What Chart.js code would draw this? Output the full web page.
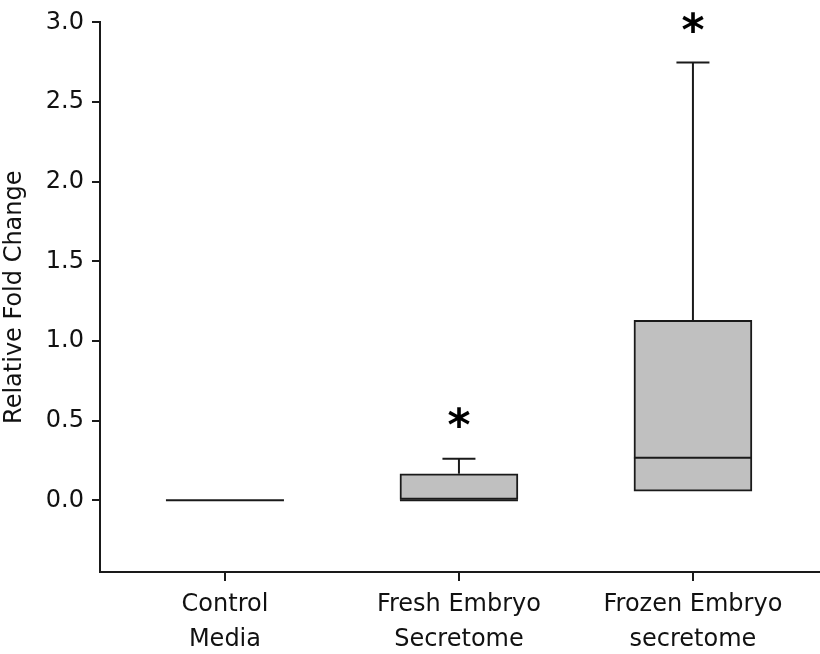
<!DOCTYPE html>
<html>
<head>
<meta charset="utf-8">
<script src="https://cdn.jsdelivr.net/npm/chart.js@4"></script>
<style>
  body { margin: 0; background: #fff; }
  #wrap { width: 820px; height: 654px; position: relative; }
</style>
</head>
<body>
<div id="wrap"><canvas id="boxChart"></canvas></div>
<script>
// ====================== DATA ======================
const categories = [["Control", "Media"], ["Fresh Embryo", "Secretome"], ["Frozen Embryo", "secretome"]];
const groupX = [1, 2, 3];
const whiskerLow = [0, 0, 0.058];
const q1 = [0, 0, 0.058];
const medians = [0, 0, 0.267];
const q3 = [0, 0.167, 1.13];
const whiskerHigh = [0, 0.261, 2.748];
const starY = [null, 0.49, 2.97];
const yTickValues = [0, 0.5, 1.0, 1.5, 2.0, 2.5, 3.0];

// ====================== STYLE ======================
const FONT = "'DejaVu Sans', sans-serif";
const lineColor = "#1a1a1a";
const boxWidth = 118;
const capWidth = 33;

// whiskers, caps, medians and significance stars
const boxExtras = {
    id: "boxExtras",
    afterDatasetsDraw(chart) {
        const { ctx, scales: { x, y } } = chart;
        const seg = (x1, y1, x2, y2) => {
            ctx.beginPath();
            ctx.moveTo(x1, y1);
            ctx.lineTo(x2, y2);
            ctx.stroke();
        };
        ctx.save();
        ctx.strokeStyle = lineColor;
        ctx.lineWidth = 2;
        groupX.forEach((gx, i) => {
            const cx = x.getPixelForValue(gx);
            const half = boxWidth / 2;
            const my = y.getPixelForValue(medians[i]);
            seg(cx - half, my, cx + half, my);
            if (whiskerHigh[i] > q3[i]) {
                const top = y.getPixelForValue(whiskerHigh[i]);
                seg(cx, y.getPixelForValue(q3[i]), cx, top);
                seg(cx - capWidth / 2, top, cx + capWidth / 2, top);
            }
            if (whiskerLow[i] < q1[i]) {
                const bot = y.getPixelForValue(whiskerLow[i]);
                seg(cx, y.getPixelForValue(q1[i]), cx, bot);
                seg(cx - capWidth / 2, bot, cx + capWidth / 2, bot);
            }
            if (starY[i] !== null) {
                ctx.fillStyle = "#000";
                ctx.font = "bold 44px " + FONT;
                ctx.textAlign = "center";
                ctx.textBaseline = "alphabetic";
                ctx.fillText("*", cx, y.getPixelForValue(starY[i]) + 18);
            }
        });
        ctx.restore();
    }
};

// ====================== CHART ======================
const ctx = document.getElementById("boxChart").getContext("2d");
new Chart(ctx, {
    type: "bar",
    data: {
        datasets: [{
            data: groupX.map((gx, i) => ({ x: gx, y: [q1[i], q3[i]] })),
            backgroundColor: "#c0c0c0",
            borderColor: lineColor,
            borderWidth: 2,
            borderSkipped: false,
            barThickness: boxWidth
        }]
    },
    options: {
        responsive: true,
        maintainAspectRatio: false,
        animation: false,
        events: [],
        layout: { padding: { top: 21, right: 0, left: 0, bottom: 0 } },
        plugins: {
            legend: { display: false },
            tooltip: { enabled: false }
        },
        scales: {
            x: {
                type: "linear",
                min: 0.466,
                max: 3.543,
                offset: false,
                afterBuildTicks: scale => { scale.ticks = groupX.map(v => ({ value: v })); },
                afterFit: scale => { scale.height = 82; },
                grid: { offset: false, drawOnChartArea: false, drawTicks: true, tickLength: 9, color: lineColor, lineWidth: 2 },
                border: { display: true, color: lineColor, width: 2 },
                ticks: {
                    padding: 6,
                    color: "#111",
                    maxRotation: 0,
                    autoSkip: false,
                    font: { family: FONT, size: 24, lineHeight: 1.46 },
                    callback: value => categories[groupX.indexOf(value)]
                }
            },
            y: {
                min: -0.45,
                max: 3.0,
                afterBuildTicks: scale => { scale.ticks = yTickValues.map(v => ({ value: v })); },
                afterFit: scale => { scale.width = 100; },
                grid: { drawOnChartArea: false, drawTicks: true, tickLength: 8, color: lineColor, lineWidth: 2 },
                border: { display: true, color: lineColor, width: 2 },
                ticks: {
                    padding: 8,
                    color: "#111",
                    font: { family: FONT, size: 24 },
                    callback: value => value.toFixed(1)
                },
                title: {
                    display: true,
                    text: "Relative Fold Change",
                    color: "#111",
                    padding: 0,
                    font: { family: FONT, size: 24 }
                }
            }
        }
    },
    plugins: [boxExtras]
});
</script>
</body>
</html>
